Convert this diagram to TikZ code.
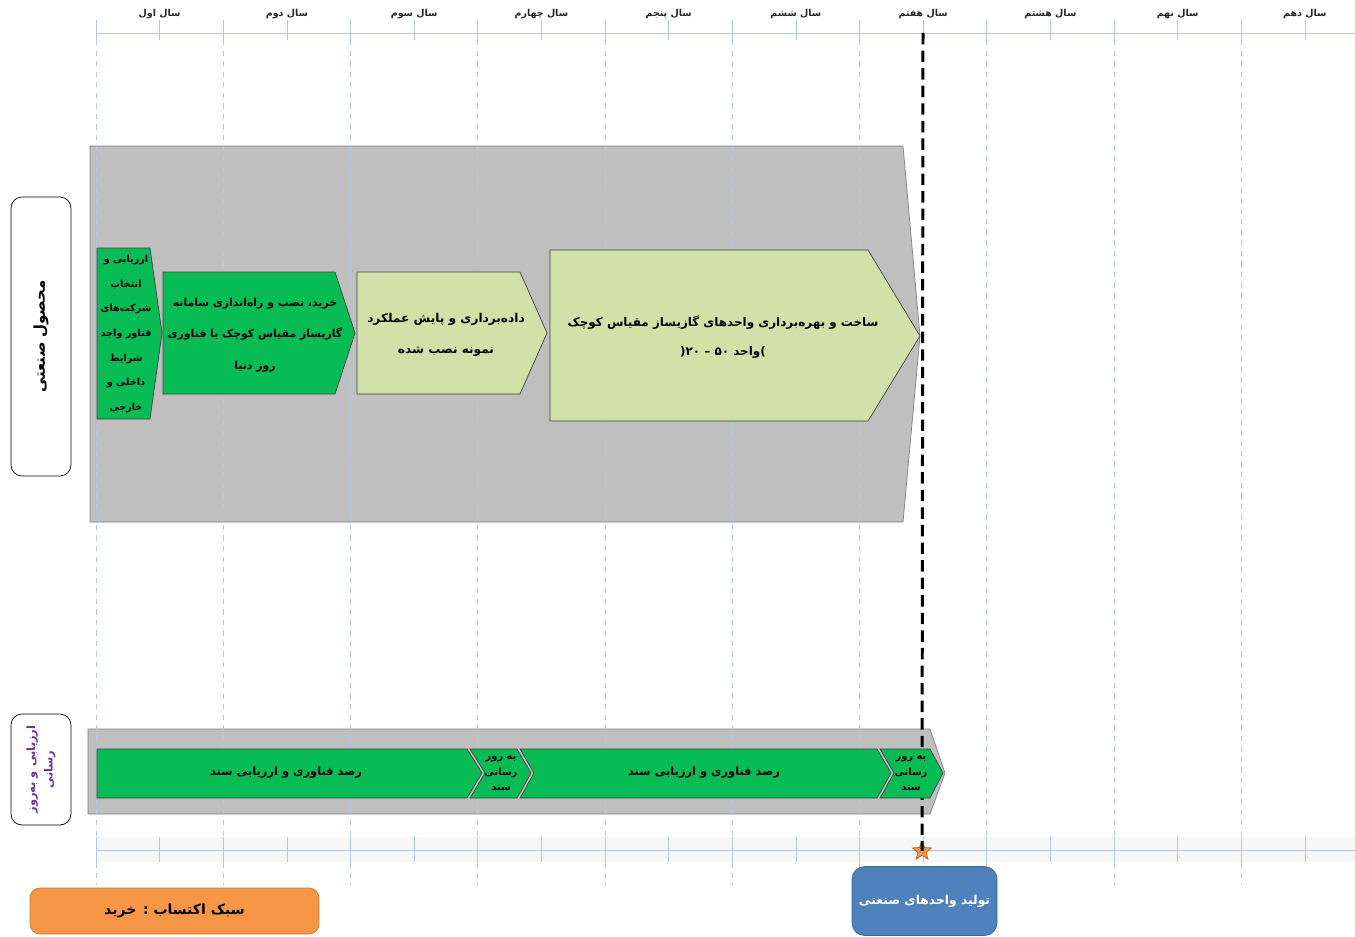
\documentclass[tikz,border=0pt]{standalone}
\usepackage{fontspec}
\usetikzlibrary{positioning,shapes.geometric}
\TeXXeTstate=1
\newfontfamily\farsi[Script=Arabic]{DejaVu Sans}
\newcommand{\fa}[1]{{\farsi\beginR #1\endR}}
\definecolor{barGreen}{RGB}{7,187,85}
\definecolor{paleGreen}{RGB}{209,225,167}
\definecolor{phaseGray}{RGB}{191,191,191}
\definecolor{gridBlue}{RGB}{180,199,231}
\definecolor{acqOrange}{RGB}{247,150,70}
\definecolor{milestoneBlue}{RGB}{79,129,189}
\definecolor{labelPurple}{RGB}{112,48,160}

\begin{document}
\begin{tikzpicture}[
    x=0.02cm, y=-0.02cm,
    yearlabel/.style={font=\fontsize{5.4}{7}\selectfont\bfseries, text=black!85},
    phasebg/.style={fill=phaseGray, draw=black!50},
    task/.style={fill=barGreen, draw=black!75},
    palebox/.style={fill=paleGreen, draw=black!75},
    tasktext/.style={align=center, font=\fontsize{6.8}{17}\selectfont\bfseries},
    smalltext/.style={align=center, font=\fontsize{5.5}{14}\selectfont\bfseries},
    tinytext/.style={align=center, font=\fontsize{5.6}{9}\selectfont\bfseries},
    rowlabel/.style={rectangle, rounded corners=0.22cm, draw, minimum width=1.2cm, fill=white},
    gridline/.style={gridBlue, dashed, thin},
    axis/.style={gridBlue, thin},
    milestone/.style={black, line width=1.7pt, dash pattern=on 6.5pt off 3.5pt}
]

\useasboundingbox (0,0) rectangle (1355,936);

% Year axis
\draw[axis] (96,33) -- (1355,33);
\fill[black!3] (96,837) rectangle (1355,862);
\draw[axis] (96,850) -- (1355,850);
\foreach \i in {0,...,19} {
    \draw[axis] ({96+63.63*\i},20) -- ({96+63.63*\i},40);
    \draw[axis] ({96+63.63*\i},837) -- ({96+63.63*\i},862);
}
\foreach \yr [count=\i] in {اول,دوم,سوم,چهارم,پنجم,ششم,هفتم,هشتم,نهم,دهم}
    \node[yearlabel] (year\i) at ({96+127.25*(\i-0.5)},14) {\fa{سال \yr}};

% Row labels
\node[rowlabel, minimum height=5.58cm] (prod) at (41,336.5) {};
\node[rotate=90, font=\fontsize{8.5}{10}\selectfont\bfseries] (prodtext) at (prod.center) {\fa{محصول صنعتی}};
\node[rowlabel, minimum height=2.22cm] (eval) at (41,769.5) {};
\node[rotate=90, align=center, text=labelPurple, font=\fontsize{6.5}{10}\selectfont\bfseries] (evaltext) at (eval.center) {\fa{ارزیابی و به‌روز}\\\fa{رسانی}};

% Gray phase bands
\draw[phasebg] (90,146) -- (903,146) -- (920,336) -- (903,522) -- (90,522) -- cycle;
\draw[phasebg] (88,729) -- (930,729) -- (945,773) -- (930,814) -- (88,814) -- cycle;

% Year grid
\foreach \i in {0,...,9}
    \draw[gridline] ({96+127.25*\i},40) -- ({96+127.25*\i},885);

% Milestone
\coordinate (mtop) at (923,33);
\node[star, star points=5, star point ratio=2.3, fill=acqOrange, draw=acqOrange!70!black, minimum size=0.4cm, inner sep=0pt] (mstar) at (922,851) {};
\draw[milestone] (mtop) -- (mstar.center);

% Product row
\draw[task] (97,248) -- (150,248) -- (162,333) -- (150,419) -- (97,419) -- cycle;
\node[smalltext] (select) at (126,334) {\fa{ارزیابی و}\\\fa{انتخاب}\\\fa{شرکت‌های}\\\fa{فناور واجد}\\\fa{شرایط}\\\fa{داخلی و}\\\fa{خارجی}};
\draw[task] (163,272) -- (335,272) -- (355,333) -- (335,394) -- (163,394) -- cycle;
\node[tasktext, font=\fontsize{6.2}{18}\selectfont\bfseries] (install) at (255,335) {\fa{خرید، نصب و راه‌اندازی سامانه}\\\fa{گازیساز مقیاس کوچک با فناوری}\\\fa{روز دنیا}};
\draw[palebox] (357,272) -- (520,272) -- (547,333) -- (520,394) -- (357,394) -- cycle;
\node[tasktext, font=\fontsize{6.9}{17.5}\selectfont\bfseries] (monitor) at (446,335) {\fa{داده‌برداری و پایش عملکرد}\\\fa{نمونه نصب شده}};
\draw[palebox] (550,250) -- (868,250) -- (920,336) -- (868,421) -- (550,421) -- cycle;
\node[tasktext] (build) at (723,337) {\fa{ساخت و بهره‌برداری واحدهای گازیساز مقیاس کوچک}\\\fa{\mbox{)}واحد ۵۰ – ۲۰\mbox{(}}};

% Evaluation row
\draw[task] (97,749) -- (467,749) -- (482,773) -- (467,798) -- (97,798) -- cycle;
\node[tasktext, font=\fontsize{6.5}{8}\selectfont\bfseries] (watch1) at (286,773) {\fa{رصد فناوری و ارزیابی سند}};
\draw[task] (470,749) -- (517,749) -- (531,773) -- (517,798) -- (470,798) -- (485,773) -- cycle;
\node[tinytext] (update1) at (501,773) {\fa{به روز}\\\fa{رسانی}\\\fa{سند}};
\draw[task] (520,749) -- (877,749) -- (891,773) -- (877,798) -- (520,798) -- (534,773) -- cycle;
\node[tasktext, font=\fontsize{6.5}{8}\selectfont\bfseries] (watch2) at (704,773) {\fa{رصد فناوری  و ارزیابی سند}};
\draw[task] (880,749) -- (930,749) -- (943,773) -- (930,798) -- (880,798) -- (894,773) -- cycle;
\node[tinytext] (update2) at (911,773) {\fa{به روز}\\\fa{رسانی}\\\fa{سند}};

% Milestone box
\node[rectangle, rounded corners=0.25cm, fill=milestoneBlue, draw=milestoneBlue!80!black, minimum width=2.9cm, minimum height=1.38cm, text=white, font=\fontsize{7}{9}\selectfont\bfseries] (indprod) at (924.5,901) {\fa{تولید واحدهای صنعتی}};

% Acquisition style
\node[rectangle, rounded corners=0.2cm, fill=acqOrange, draw=acqOrange!80!black, minimum width=5.78cm, minimum height=0.92cm, font=\fontsize{8}{10}\selectfont\bfseries] (acq) at (174.5,911) {\fa{سبک اکتساب : خرید}};

\end{tikzpicture}
\end{document}
